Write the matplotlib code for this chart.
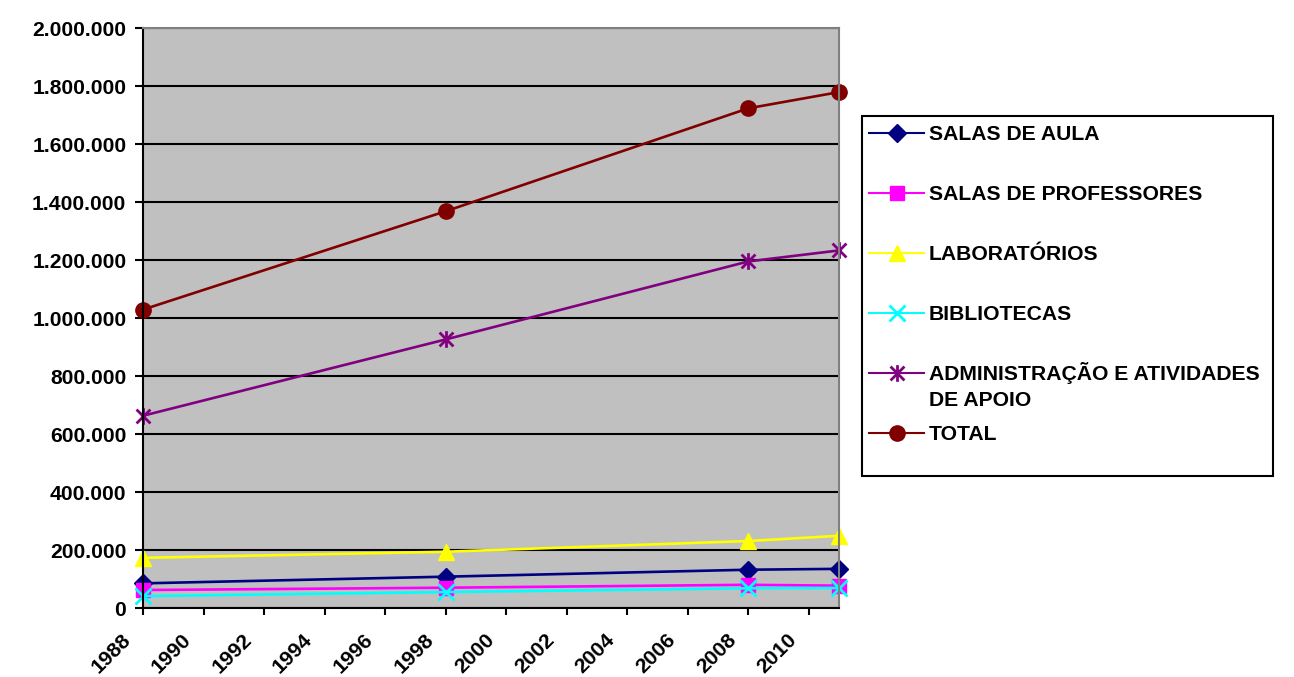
import matplotlib
matplotlib.use('Agg')
import matplotlib.pyplot as plt
import matplotlib.ticker as ticker
import matplotlib.transforms as mtransforms
from matplotlib.lines import Line2D
from matplotlib.patches import Rectangle
from matplotlib.path import Path

# Área construída por tipo de ambiente
years = [1988, 1998, 2008, 2011]
salas_aula = [85000, 108000, 132000, 135000]
salas_professores = [62000, 70000, 80000, 77000]
laboratorios = [173000, 194000, 231000, 249000]
bibliotecas = [41000, 55000, 68000, 69000]
administracao = [663000, 926000, 1195000, 1233000]
total = [1029000, 1368000, 1723000, 1779000]

labels = [
    "SALAS DE AULA",
    "SALAS DE PROFESSORES",
    "LABORATÓRIOS",
    "BIBLIOTECAS",
    "ADMINISTRAÇÃO E ATIVIDADES\nDE APOIO",
    "TOTAL",
]
series = [salas_aula, salas_professores, laboratorios, bibliotecas, administracao, total]

# asterisk marker: an "x" crossed by a vertical bar
asterisk = Path(
    [(-1, -1), (1, 1), (-1, 1), (1, -1), (0, -1.2), (0, 1.2)],
    [Path.MOVETO, Path.LINETO, Path.MOVETO, Path.LINETO, Path.MOVETO, Path.LINETO],
)

styles = [
    dict(color='#000080', marker='D', ms=9.5),
    dict(color='#FF00FF', marker='s', ms=10.5),
    dict(color='#FFFF00', marker='^', ms=11.5),
    dict(color='#00FFFF', marker='x', ms=11, mew=2),
    dict(color='#800080', marker=asterisk, ms=12, mew=2, fillstyle='none'),
    dict(color='#800000', marker='o', ms=11),
]

plt.rcParams['font.family'] = ['Liberation Sans', 'DejaVu Sans']
plt.rcParams['font.weight'] = 'bold'
FS = 15.2

W, H = 1294, 677
fig = plt.figure(figsize=(W / 100, H / 100), dpi=100)


def px(x, y):
    # pixel position (origin top-left) -> figure fraction
    return x / W, 1 - y / H


ax = fig.add_axes([143 / W, 1 - 608 / H, (839 - 143) / W, (608 - 28) / H])
ax.set_facecolor('#C0C0C0')

for vals, st in zip(series, styles):
    ax.plot(years, vals, lw=1.9, clip_on=False, **st)

ax.set_xlim(1988, 2011)
ax.set_ylim(0, 2000000)
ax.xaxis.set_major_locator(ticker.MultipleLocator(2))
ax.yaxis.set_major_locator(ticker.MultipleLocator(200000))
ax.yaxis.set_major_formatter(
    ticker.FuncFormatter(lambda v, _: f"{int(v):,}".replace(",", ".")))

ax.grid(axis='y', color='black', lw=1.5)
ax.grid(axis='x', visible=False)

for side in ('left', 'bottom'):
    ax.spines[side].set_color('black')
    ax.spines[side].set_linewidth(1.5)
for side in ('top', 'right'):
    ax.spines[side].set_color('#808080')
    ax.spines[side].set_linewidth(1.5)

ax.tick_params(axis='y', direction='out', length=6, width=1.5, pad=6,
               labelsize=FS)
ax.tick_params(axis='x', direction='out', length=5, width=1.5, pad=16,
               labelsize=FS)
for lab in ax.get_yticklabels():
    lab.set_fontweight('bold')
shift = mtransforms.ScaledTranslation(-0.15, 0, fig.dpi_scale_trans)
for lab in ax.get_xticklabels():
    lab.set_fontweight('bold')
    lab.set_rotation(45)
    lab.set_ha('right')
    lab.set_va('center')
    lab.set_rotation_mode('anchor')
    lab.set_transform(lab.get_transform() + shift)

# legend, drawn by hand so the handle sits on the first line of each label
x0, y0 = px(862, 476)
x1, y1 = px(1273, 116)
fig.add_artist(Rectangle((x0, y0), x1 - x0, y1 - y0, transform=fig.transFigure,
                         facecolor='white', edgecolor='black', lw=1.5))

for i, (lab, st) in enumerate(zip(labels, styles)):
    yc = 133 + 60 * i
    hx0, hy = px(869, yc)
    hx1, _ = px(924, yc)
    fig.add_artist(Line2D([hx0, (hx0 + hx1) / 2, hx1], [hy, hy, hy],
                          transform=fig.transFigure, lw=1.5, markevery=[1],
                          **st))
    for j, line in enumerate(lab.split('\n')):
        tx, ty = px(929, yc + 7.5 + 25 * j)
        fig.text(tx, ty, line, fontsize=FS, fontweight='bold',
                 va='baseline', ha='left')

fig.savefig('out.png', dpi=100)
